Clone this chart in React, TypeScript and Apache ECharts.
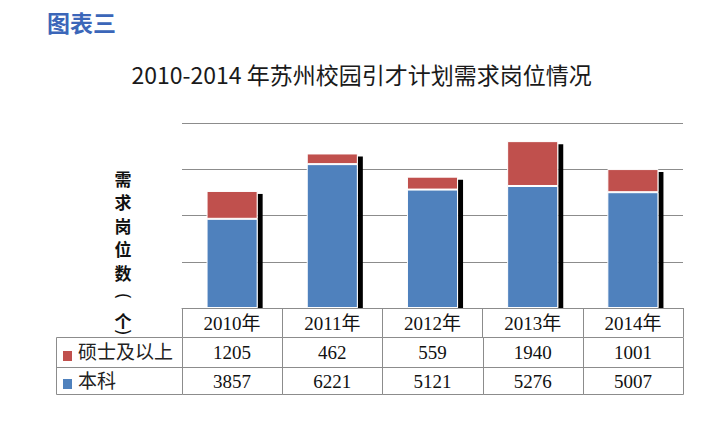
import React, { useEffect, useRef } from "react";
import * as echarts from "echarts";

const years = ["2010年", "2011年", "2012年", "2013年", "2014年"];
const masterValues = [1205, 462, 559, 1940, 1001];
const bachelorValues = [3857, 6221, 5121, 5276, 5007];
const seriesNames = ["硕士及以上", "本科"];
const yMax = 8000;
const yInterval = 2000;
const chartTitle = "2010-2014 年苏州校园引才计划需求岗位情况";
const figureLabel = "图表三";
const yAxisTitleChars = ["需", "求", "岗", "位", "数"];
const yAxisUnitChar = "个";

const BLUE = "#4f81bd";
const RED = "#c0504d";
const LINE = "#8c8c8c";
const TABLE_FONT = "19px 'Liberation Serif', 'Noto Sans CJK SC', serif";
const YT_FONT = "bold 17px 'Noto Sans CJK SC', sans-serif";

export default function App() {
  const ref = useRef<HTMLDivElement>(null);
  useEffect(() => {
    if (!ref.current) return;
    const chart = echarts.init(ref.current, undefined, { renderer: "svg" });
    const totals = masterValues.map((m, i) => m + bachelorValues[i]);

    const yTitle: any[] = yAxisTitleChars.map((ch, k) => ({
      type: "text",
      x: 123,
      y: 178 + k * 23.5,
      style: { text: ch, font: YT_FONT, fill: "#111", align: "center", verticalAlign: "middle" },
    }));
    yTitle.push(
      {
        type: "text",
        x: 123,
        y: 296,
        rotation: -Math.PI / 2,
        style: { text: "(", font: "17px 'DejaVu Sans', sans-serif", fill: "#111", align: "center", verticalAlign: "middle" },
      },
      {
        type: "text",
        x: 123,
        y: 320,
        style: { text: yAxisUnitChar, font: YT_FONT, fill: "#111", align: "center", verticalAlign: "middle" },
      },
      {
        type: "text",
        x: 123,
        y: 332,
        rotation: -Math.PI / 2,
        style: { text: ")", font: "17px 'DejaVu Sans', sans-serif", fill: "#111", align: "center", verticalAlign: "middle" },
      }
    );

    const option: any = {
      animation: false,
      backgroundColor: "#fff",
      title: {
        text: chartTitle,
        left: "center",
        top: 57,
        textStyle: {
          fontFamily: "'Noto Sans CJK SC', sans-serif",
          fontSize: 23,
          fontWeight: "normal",
          color: "#1a1a1a",
        },
      },
      grid: { left: 182, right: 40, top: 123, bottom: 128 },
      xAxis: {
        type: "category",
        data: years,
        axisLine: { show: true, lineStyle: { color: LINE, width: 1 } },
        axisTick: { show: true, interval: 0, length: 29, lineStyle: { color: LINE } },
        axisLabel: {
          interval: 0,
          margin: 15,
          verticalAlign: "middle",
          color: "#111",
          fontFamily: "'Liberation Serif', 'Noto Sans CJK SC', serif",
          fontSize: 19,
        },
      },
      yAxis: {
        type: "value",
        min: 0,
        max: yMax,
        interval: yInterval,
        axisLine: { show: false },
        axisTick: { show: false },
        axisLabel: { show: false },
        splitLine: { show: true, lineStyle: { color: LINE, width: 1 } },
      },
      series: [
        {
          type: "custom",
          name: "shadow",
          z: 1,
          clip: false,
          data: totals.map((t, i) => [i, t]),
          renderItem: (params: any, api: any) => {
            const i = api.value(0);
            const top = api.coord([i, api.value(1)]);
            const base = api.coord([i, 0]);
            const barW = api.size([1, 0])[0] * 0.51;
            const x = top[0] + barW / 2;
            return {
              type: "rect",
              shape: { x: x, y: top[1] + 3, width: 5, height: base[1] - top[1] - 3 },
              style: { fill: "#000" },
            };
          },
        },
        {
          type: "bar",
          name: seriesNames[1],
          stack: "total",
          barWidth: "51%",
          z: 2,
          data: bachelorValues,
          itemStyle: { color: BLUE, borderColor: "#fff", borderWidth: 1 },
        },
        {
          type: "bar",
          name: seriesNames[0],
          stack: "total",
          barWidth: "51%",
          z: 2,
          data: masterValues,
          itemStyle: { color: RED, borderColor: "#fff", borderWidth: 1 },
        },
        {
          type: "custom",
          name: "table",
          clip: false,
          z: 3,
          data: years.map((_, i) => [i, 0]),
          renderItem: (params: any, api: any) => {
            const i = api.value(0);
            const c = api.coord([i, 0]);
            const w = api.size([1, 0])[0];
            const left = Math.round(c[0] - w / 2) + 0.5;
            const right = Math.round(c[0] + w / 2) + 0.5;
            const base = Math.round(c[1]);
            const r1 = base + 29.5;
            const r2 = base + 59.5;
            const r3 = base + 86.5;
            const ls = { stroke: LINE, lineWidth: 1 };
            const children: any[] = [
              { type: "line", shape: { x1: left, y1: r1, x2: right, y2: r1 }, style: ls },
              { type: "line", shape: { x1: left, y1: r2, x2: right, y2: r2 }, style: ls },
              { type: "line", shape: { x1: left, y1: r3, x2: right, y2: r3 }, style: ls },
              { type: "line", shape: { x1: right, y1: r1, x2: right, y2: r3 }, style: ls },
              { type: "line", shape: { x1: left, y1: r1, x2: left, y2: r3 }, style: ls },
              {
                type: "text",
                x: c[0],
                y: base + 44.5,
                style: { text: String(masterValues[i]), font: TABLE_FONT, fill: "#111", align: "center", verticalAlign: "middle" },
              },
              {
                type: "text",
                x: c[0],
                y: base + 73,
                style: { text: String(bachelorValues[i]), font: TABLE_FONT, fill: "#111", align: "center", verticalAlign: "middle" },
              },
            ];
            return { type: "group", children };
          },
        },
      ],
      graphic: [
        {
          type: "text",
          left: 47,
          top: 10,
          style: {
            text: figureLabel,
            font: "bold 23px 'Noto Sans CJK SC', sans-serif",
            fill: "#3b66b9",
          },
        },
        ...yTitle,
        { type: "line", shape: { x1: 56.5, y1: 337.5, x2: 182.5, y2: 337.5 }, style: { stroke: LINE, lineWidth: 1 } },
        { type: "line", shape: { x1: 56.5, y1: 367.5, x2: 182.5, y2: 367.5 }, style: { stroke: LINE, lineWidth: 1 } },
        { type: "line", shape: { x1: 56.5, y1: 394.5, x2: 182.5, y2: 394.5 }, style: { stroke: LINE, lineWidth: 1 } },
        { type: "line", shape: { x1: 56.5, y1: 337.5, x2: 56.5, y2: 394.5 }, style: { stroke: LINE, lineWidth: 1 } },
        { type: "rect", shape: { x: 63, y: 351, width: 9, height: 10 }, style: { fill: RED } },
        { type: "rect", shape: { x: 63, y: 379, width: 9, height: 10 }, style: { fill: BLUE } },
        {
          type: "text",
          x: 78,
          y: 352.5,
          style: { text: seriesNames[0], font: TABLE_FONT, fill: "#222", align: "left", verticalAlign: "middle" },
        },
        {
          type: "text",
          x: 78,
          y: 381,
          style: { text: seriesNames[1], font: TABLE_FONT, fill: "#222", align: "left", verticalAlign: "middle" },
        },
      ],
    };
    chart.setOption(option);
    return () => chart.dispose();
  }, []);
  return (
    <div
      ref={ref}
      style={{ position: "absolute", left: 0, top: 0, width: 723, height: 436 }}
    />
  );
}
